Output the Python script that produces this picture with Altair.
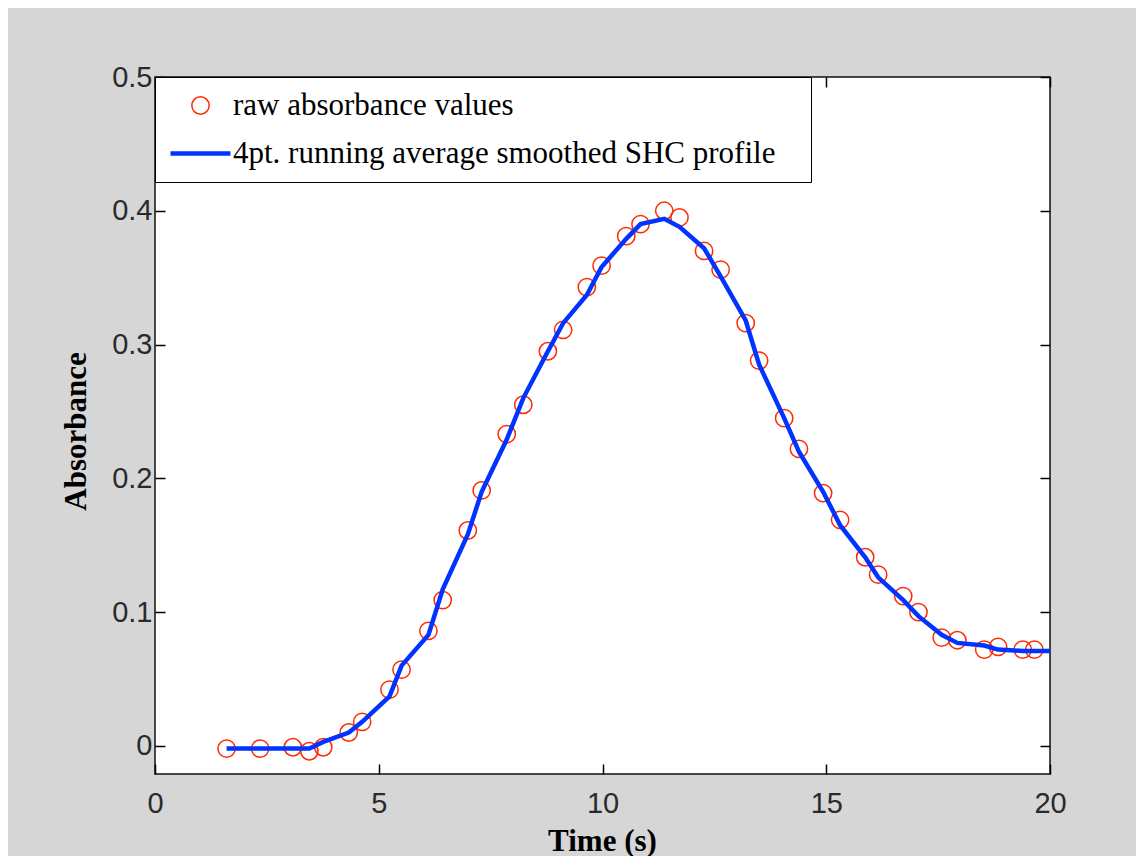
import altair as alt
import pandas as pd

# ---- data ----
t_raw = [1.60, 2.35, 3.08, 3.45, 3.76, 4.33, 4.63, 5.24, 5.51, 6.11,
         6.43, 6.99, 7.30, 7.86, 8.23, 8.78, 9.12, 9.65, 9.98, 10.53,
         10.85, 11.38, 11.72, 12.27, 12.64, 13.20, 13.50, 14.06, 14.39, 14.93,
         15.31, 15.87, 16.16, 16.72, 17.06, 17.58, 17.93, 18.53, 18.84, 19.39,
         19.65]
a_raw = [-0.002, -0.002, -0.001, -0.004, -0.001, 0.010, 0.018, 0.042, 0.057, 0.086,
         0.109, 0.161, 0.191, 0.233, 0.255, 0.295, 0.311, 0.343, 0.359, 0.381,
         0.390, 0.400, 0.395, 0.370, 0.356, 0.316, 0.288, 0.245, 0.222, 0.189,
         0.169, 0.141, 0.128, 0.112, 0.100, 0.081, 0.079, 0.072, 0.074, 0.072,
         0.072]
t_smooth = t_raw + [20.0]
a_smooth = [-0.002, -0.002, -0.002, -0.002, 0.003, 0.010, 0.018, 0.037, 0.060, 0.083,
            0.117, 0.158, 0.190, 0.229, 0.260, 0.295, 0.316, 0.337, 0.358, 0.379,
            0.390, 0.394, 0.388, 0.372, 0.351, 0.318, 0.285, 0.245, 0.220, 0.190,
            0.165, 0.141, 0.126, 0.109, 0.097, 0.083, 0.077, 0.075, 0.072, 0.071,
            0.071, 0.071]

series_names = ["raw absorbance values", "4pt. running average smoothed SHC profile"]
series_colors = ["#ff2a00", "#0033ff"]
series_shapes = ["circle", "stroke"]
series_sizes = [300, 3600]
series_widths = [1.5, 4.5]
x_ticks = [0, 5, 10, 15, 20]
y_ticks = [0, 0.1, 0.2, 0.3, 0.4, 0.5]
x_domain = [0, 20]
y_domain = [-0.021, 0.5]

raw_df = pd.DataFrame({"t": t_raw, "a": a_raw, "series": series_names[0]})
smooth_df = pd.DataFrame({"t": t_smooth, "a": a_smooth, "series": series_names[1]})

xs = alt.Scale(domain=x_domain, nice=False, zero=False)
ys = alt.Scale(domain=y_domain, nice=False, zero=False)

label_style = dict(labelFont="Liberation Sans", labelFontSize=29, labelColor="#2a2a2a")
# inward ticks: axis moved 10px inside the plot, ticks 10px long pointing outward
tick_style = dict(grid=False, domain=False, offset=-10, tickSize=10, tickWidth=1.5,
                  tickColor="black")
title_style = dict(titleFont="Liberation Serif", titleFontSize=31, titleFontWeight="bold",
                   titleColor="black")

ax_bottom = alt.Axis(orient="bottom", values=x_ticks, format="~g", labelPadding=15,
                     labelFlush=False, labelOverlap=False,
                     title="Time (s)", titleBaseline="alphabetic", titleX=447, titleY=86,
                     **tick_style, **label_style, **title_style)
ax_left = alt.Axis(orient="left", values=y_ticks, format="~g", labelPadding=3,
                   labelFlush=False, labelOverlap=False,
                   title="Absorbance", titleAngle=270, titleBaseline="alphabetic",
                   titleX=-80, titleY=354,
                   **tick_style, **label_style, **title_style)
ax_top = alt.Axis(orient="top", values=x_ticks, labels=False, title=None, **tick_style)
ax_right = alt.Axis(orient="right", values=y_ticks, labels=False, title=None, **tick_style)

# the legend title is an invisible (white) spacer on the right that widens the box
legend = alt.Legend(
    title="\u2014", titleOrient="right", titlePadding=3, titleColor="white",
    titleFont="Liberation Serif", titleFontSize=20,
    orient="none", legendX=0, legendY=0, direction="vertical",
    strokeColor="black", fillColor="white", padding=13, rowPadding=-2,
    labelFont="Liberation Serif", labelFontSize=31, labelColor="black",
    labelLimit=0, labelOffset=0,
    symbolFillColor="transparent",
)

points = alt.Chart(raw_df).mark_point(filled=False, opacity=1).encode(
    x=alt.X("t:Q", scale=xs, axis=ax_bottom),
    y=alt.Y("a:Q", scale=ys, axis=ax_left),
    color=alt.Color("series:N", scale=alt.Scale(domain=series_names, range=series_colors),
                    legend=legend),
    shape=alt.Shape("series:N", scale=alt.Scale(domain=series_names, range=series_shapes),
                    legend=legend),
    size=alt.Size("series:N", scale=alt.Scale(type="ordinal", domain=series_names,
                                              range=series_sizes), legend=legend),
    strokeWidth=alt.StrokeWidth("series:N", scale=alt.Scale(type="ordinal", domain=series_names,
                                                            range=series_widths),
                                legend=legend),
)

line = alt.Chart(smooth_df).mark_line(strokeWidth=4.5, color=series_colors[1]).encode(
    x=alt.X("t:Q", scale=xs, axis=ax_top),
    y=alt.Y("a:Q", scale=ys, axis=ax_right),
)

chart = alt.layer(points, line).resolve_axis(
    x="independent", y="independent"
).properties(
    width=895, height=697,
    autosize=alt.AutoSizeParams(type="none"),
    padding={"left": 147, "top": 69, "right": 86, "bottom": 82},
    background="#d6d6d6",
).configure_view(stroke="#111111", strokeWidth=1.5, fill="white")

chart.save("out.html", embed_options={"renderer": "svg", "actions": False})
